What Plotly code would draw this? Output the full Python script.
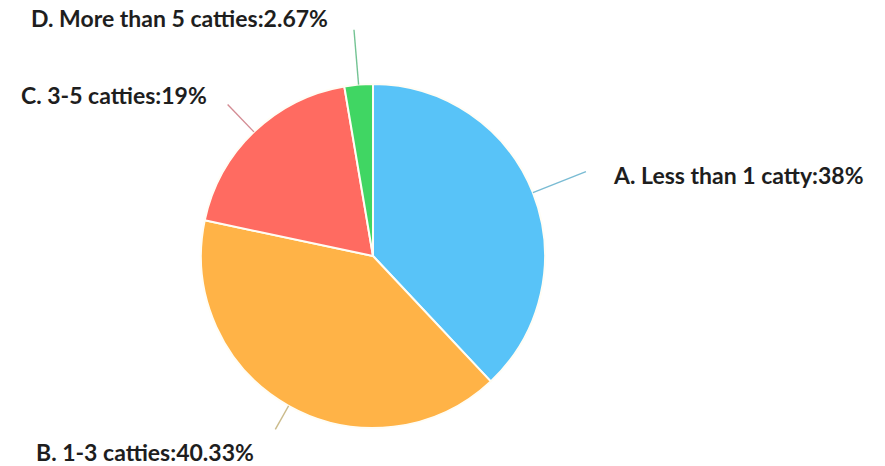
import math
import plotly.graph_objects as go

# Share of respondents by amount purchased
categories = ["A. Less than 1 catty", "B. 1-3 catties", "C. 3-5 catties", "D. More than 5 catties"]
shares = [38, 40.33, 19, 2.67]
share_labels = ["38%", "40.33%", "19%", "2.67%"]
colors = ["#58C3F8", "#FFB347", "#FF6B61", "#40D663"]
line_colors = ["rgba(88,170,200,0.8)", "rgba(190,170,110,0.8)", "rgba(200,110,120,0.8)", "rgba(80,180,120,0.8)"]

W, H = 885, 466
CX, CY, R = 373, 256, 172  # pie centre and radius in pixels

# leader line length (px) and label offset from the line end (dx, dy, anchor)
leader_len = [57, 27, 38, 55]
label_offset = [(25, 3, "left"), (-19, 23, "right"), (-19, -9, "right"), (-24, -12, "right")]

fig = go.Figure(go.Pie(
    labels=categories,
    values=shares,
    sort=False,
    direction="clockwise",
    rotation=0,
    marker=dict(colors=colors, line=dict(color="#FFFDF5", width=2)),
    textinfo="none",
    hoverinfo="label+percent",
    showlegend=False,
    domain=dict(x=[(CX - R) / W, (CX + R) / W], y=[1 - (CY + R) / H, 1 - (CY - R) / H]),
))

def px(x, y):
    return x / W, 1 - y / H

total = sum(shares)
cum = 0.0
shapes, annotations = [], []
for cat, val, lab, col, ln, (dx, dy, anc) in zip(categories, shares, share_labels, line_colors, leader_len, label_offset):
    mid = (cum + val / 2) / total * 2 * math.pi
    cum += val
    ux, uy = math.sin(mid), -math.cos(mid)
    x0, y0 = CX + R * ux, CY + R * uy
    x1, y1 = CX + (R + ln) * ux, CY + (R + ln) * uy
    a, b = px(x0, y0)
    c, d = px(x1, y1)
    shapes.append(dict(type="line", xref="paper", yref="paper", x0=a, y0=b, x1=c, y1=d,
                       line=dict(color=col, width=1.4)))
    tx, ty = px(x1 + dx, y1 + dy)
    annotations.append(dict(
        x=tx, y=ty, xref="paper", yref="paper", xanchor=anc, yanchor="middle",
        text=f"<b>{cat}:{lab}</b>", showarrow=False,
        font=dict(family="Lato, 'Open Sans', sans-serif", size=23, color="#1E1E1E"),
    ))

fig.update_layout(
    width=W, height=H,
    margin=dict(l=0, r=0, t=0, b=0),
    paper_bgcolor="white", plot_bgcolor="white",
    shapes=shapes, annotations=annotations,
)

fig.write_html("out.html")
